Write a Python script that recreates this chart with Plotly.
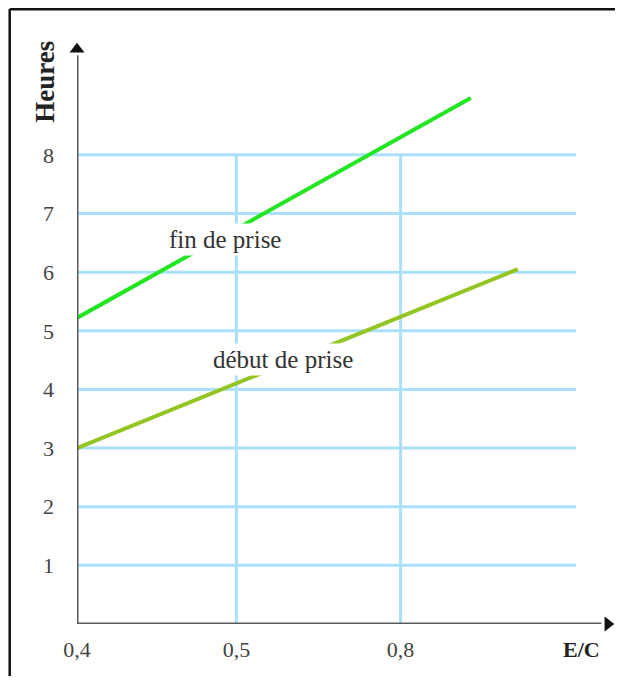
import plotly.graph_objects as go

# ---- data ----
ec_labels = ["0,4", "0,5", "0,8"]          # E/C tick labels
ec_pos = [0, 1, 2.03]                      # positions of those ticks on the drawing axis
hour_ticks = [1, 2, 3, 4, 5, 6, 7, 8]

fin_x = [0, 2.47]
fin_y = [5.22, 8.97]
debut_x = [0, 2.765]
debut_y = [3.0, 6.05]

grid_x_end = 3.13
grid_y_top = 8
x_arrow = 3.33
y_arrow = 9.8

FONT = "Liberation Serif"
GRID = "#abe0fa"
AXIS = "#5a5a5a"

# page body has an 8px margin: figure coordinates = screen pixels - 8
OFF = 8
W, H = 623 - OFF, 684 - 2 * OFF
L, R, T = 69.3, 3.7, 12
B = H - (623.6 - OFF)
PW, PH = W - L - R, H - T - B
XR = [0, 3.4]
YR = [0, 10.3]


def px_to_paper(px, py):
    """screen pixel in the reference -> paper coordinates"""
    return (px - OFF - L) / PW, (H - B - (py - OFF)) / PH


fig = go.Figure()

fig.add_trace(go.Scatter(x=fin_x, y=fin_y, mode="lines",
                         line=dict(color="#22e622", width=4), cliponaxis=False,
                         showlegend=False, hoverinfo="skip"))
fig.add_trace(go.Scatter(x=debut_x, y=debut_y, mode="lines",
                         line=dict(color="#93c623", width=4), cliponaxis=False,
                         showlegend=False, hoverinfo="skip"))
# arrowheads
fig.add_trace(go.Scatter(x=[0], y=[y_arrow], mode="markers", cliponaxis=False,
                         marker=dict(symbol="triangle-up", size=13, color="#111"),
                         showlegend=False, hoverinfo="skip"))
fig.add_trace(go.Scatter(x=[x_arrow], y=[0], mode="markers", cliponaxis=False,
                         marker=dict(symbol="triangle-right", size=13, color="#111"),
                         showlegend=False, hoverinfo="skip"))

shapes = []
for h in hour_ticks:
    shapes.append(dict(type="line", xref="x", yref="y", x0=0, x1=grid_x_end, y0=h, y1=h,
                       line=dict(color=GRID, width=3), layer="below"))
for p in ec_pos[1:]:
    shapes.append(dict(type="line", xref="x", yref="y", x0=p, x1=p, y0=0, y1=grid_y_top,
                       line=dict(color=GRID, width=3), layer="below"))
# axes
shapes.append(dict(type="line", xref="x", yref="y", x0=0, x1=0, y0=0, y1=y_arrow - 0.1,
                   line=dict(color=AXIS, width=3), layer="above"))
shapes.append(dict(type="line", xref="x", yref="y", x0=0, x1=x_arrow - 0.04, y0=0, y1=0,
                   line=dict(color=AXIS, width=3), layer="above"))
# frame
fx0, fy0 = px_to_paper(10, 9)
fx1, fy1 = px_to_paper(640, 700)
shapes.append(dict(type="line", xref="paper", yref="paper", x0=fx0, x1=fx1, y0=fy0, y1=fy0,
                   line=dict(color="#111", width=3), layer="above"))
shapes.append(dict(type="line", xref="paper", yref="paper", x0=fx0, x1=fx0, y0=fy0, y1=fy1,
                   line=dict(color="#111", width=2.5), layer="above"))

hx, hy = px_to_paper(45, 82)
ex, ey = px_to_paper(582, 649)
annotations = [
    dict(x=0.927, y=6.55, xref="x", yref="y", text="fin de prise", showarrow=False,
         xanchor="center", yanchor="middle",
         font=dict(family=FONT, size=25, color="#333"), bgcolor="white", borderpad=2),
    dict(x=1.294, y=4.515, xref="x", yref="y", text="début de prise", showarrow=False,
         xanchor="center", yanchor="middle",
         font=dict(family=FONT, size=25, color="#333"), bgcolor="white", borderpad=2),
    dict(x=hx, y=hy, xref="paper", yref="paper", text="<b>Heures</b>", showarrow=False,
         xanchor="center", yanchor="middle",
         textangle=-90, font=dict(family=FONT, size=27, color="#222")),
    dict(x=ex, y=ey, xref="paper", yref="paper", text="<b>E/C</b>", showarrow=False,
         xanchor="center", yanchor="middle",
         font=dict(family=FONT, size=22, color="#222")),
]

fig.update_layout(
    width=W, height=H, autosize=False,
    margin=dict(l=L, r=R, t=T, b=B, autoexpand=False),
    paper_bgcolor="white", plot_bgcolor="white",
    shapes=shapes, annotations=annotations,
    xaxis=dict(range=XR, showgrid=False, zeroline=False, showline=False, automargin=False,
               tickmode="array", tickvals=ec_pos, ticktext=ec_labels, ticks="",
               ticklabelstandoff=10,
               tickfont=dict(family=FONT, size=22, color="#444")),
    yaxis=dict(range=YR, showgrid=False, zeroline=False, showline=False, automargin=False,
               tickmode="array", tickvals=hour_ticks, ticks="",
               ticklabelstandoff=22,
               tickfont=dict(family=FONT, size=22, color="#444")),
)

fig.write_html("out.html")
